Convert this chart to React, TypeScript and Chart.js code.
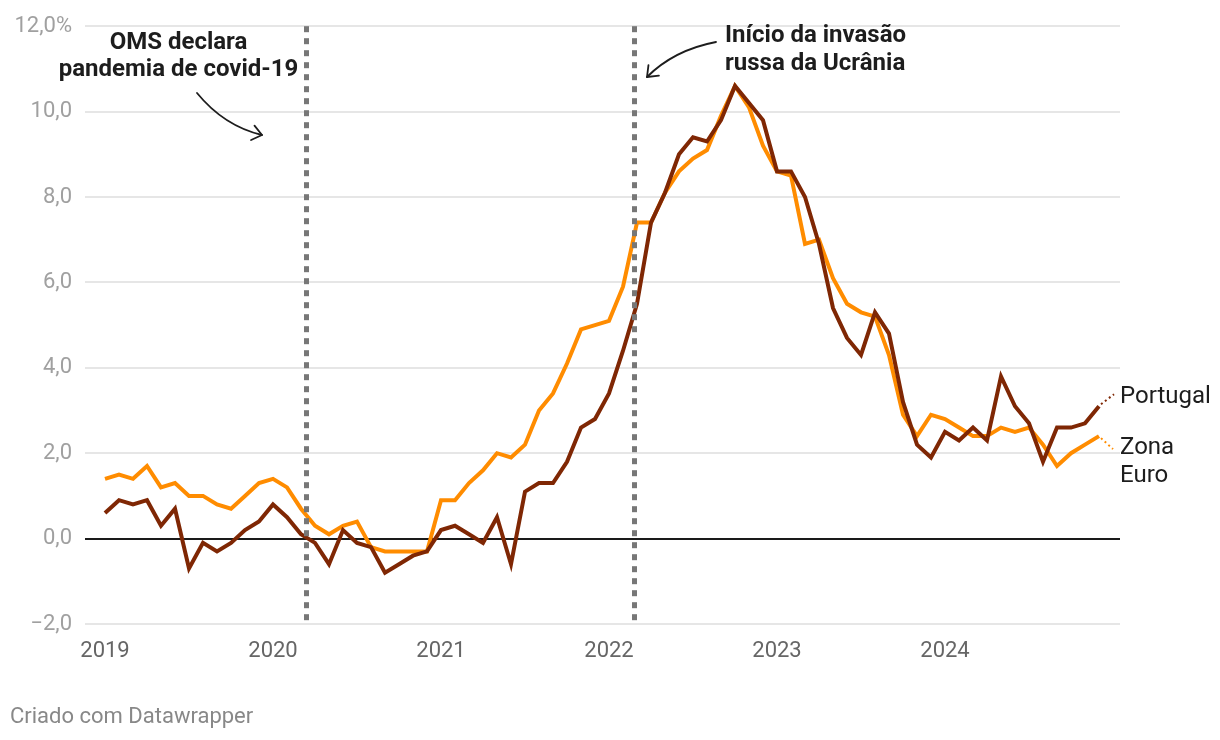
import React, { useEffect, useRef } from 'react';
import { Chart, registerables } from 'chart.js';

Chart.register(...registerables);

// ---- Data (monthly, Jan 2019 – Dec 2024) ----
const yearLabels = ['2019', '2020', '2021', '2022', '2023', '2024'];
const yearTickMonths = [0, 12, 24, 36, 48, 60];

const portugal = [
  0.6, 0.9, 0.8, 0.9, 0.3, 0.7, -0.7, -0.1, -0.3, -0.1, 0.2, 0.4,
  0.8, 0.5, 0.1, -0.1, -0.6, 0.2, -0.1, -0.2, -0.8, -0.6, -0.4, -0.3,
  0.2, 0.3, 0.1, -0.1, 0.5, -0.6, 1.1, 1.3, 1.3, 1.8, 2.6, 2.8,
  3.4, 4.4, 5.5, 7.4, 8.1, 9.0, 9.4, 9.3, 9.8, 10.6, 10.2, 9.8,
  8.6, 8.6, 8.0, 6.9, 5.4, 4.7, 4.3, 5.3, 4.8, 3.2, 2.2, 1.9,
  2.5, 2.3, 2.6, 2.3, 3.8, 3.1, 2.7, 1.8, 2.6, 2.6, 2.7, 3.1,
];

const zonaEuro = [
  1.4, 1.5, 1.4, 1.7, 1.2, 1.3, 1.0, 1.0, 0.8, 0.7, 1.0, 1.3,
  1.4, 1.2, 0.7, 0.3, 0.1, 0.3, 0.4, -0.2, -0.3, -0.3, -0.3, -0.3,
  0.9, 0.9, 1.3, 1.6, 2.0, 1.9, 2.2, 3.0, 3.4, 4.1, 4.9, 5.0,
  5.1, 5.9, 7.4, 7.4, 8.1, 8.6, 8.9, 9.1, 9.9, 10.6, 10.1, 9.2,
  8.6, 8.5, 6.9, 7.0, 6.1, 5.5, 5.3, 5.2, 4.3, 2.9, 2.4, 2.9,
  2.8, 2.6, 2.4, 2.4, 2.6, 2.5, 2.6, 2.2, 1.7, 2.0, 2.2, 2.4,
];

const yTickValues = [-2, 0, 2, 4, 6, 8, 10, 12];

// Events (fractional month index from Jan 2019)
const eventMonths = [14.33, 37.82];
const eventTexts = [
  ['OMS declara', 'pandemia de covid-19'],
  ['Início da invasão', 'russa da Ucrânia'],
];

const seriesNames = ['Portugal', 'Zona Euro'];
const footerText = 'Criado com Datawrapper';

const COLOR_PT = '#7f2704';
const COLOR_EU = '#ff8c00';
const FONT = 'Roboto, "Noto Sans", "DejaVu Sans", sans-serif';

function drawArrow(
  ctx: CanvasRenderingContext2D,
  p0: [number, number],
  c: [number, number],
  p2: [number, number]
) {
  ctx.beginPath();
  ctx.moveTo(p0[0], p0[1]);
  ctx.quadraticCurveTo(c[0], c[1], p2[0], p2[1]);
  ctx.stroke();
  const ang = Math.atan2(p2[1] - c[1], p2[0] - c[0]);
  const len = 12;
  const spread = (38 * Math.PI) / 180;
  ctx.beginPath();
  ctx.moveTo(p2[0] - len * Math.cos(ang - spread), p2[1] - len * Math.sin(ang - spread));
  ctx.lineTo(p2[0], p2[1]);
  ctx.lineTo(p2[0] - len * Math.cos(ang + spread), p2[1] - len * Math.sin(ang + spread));
  ctx.stroke();
}

const overlayPlugin = {
  id: 'overlay',
  afterDatasetsDraw(chart: any) {
    const { ctx, chartArea, scales } = chart;
    const x = scales.x;
    ctx.save();
    ctx.strokeStyle = '#777777';
    ctx.lineWidth = 5;
    ctx.setLineDash([6, 6]);
    eventMonths.forEach((m) => {
      const px = Math.round(x.getPixelForValue(m)) + 0.5;
      ctx.beginPath();
      ctx.moveTo(px, chartArea.top);
      ctx.lineTo(px, chartArea.bottom);
      ctx.stroke();
    });
    ctx.restore();
  },
  afterDraw(chart: any) {
    const { ctx, scales } = chart;
    const x = scales.x;
    const y = scales.y;
    ctx.save();

    // Event annotations
    ctx.fillStyle = '#1d1d1d';
    ctx.font = `bold 24px ${FONT}`;
    ctx.textBaseline = 'alphabetic';
    ctx.textAlign = 'center';
    ctx.fillText(eventTexts[0][0], 178.5, 49);
    ctx.fillText(eventTexts[0][1], 178.5, 76);
    ctx.textAlign = 'left';
    ctx.fillText(eventTexts[1][0], 725, 42);
    ctx.fillText(eventTexts[1][1], 725, 70);

    ctx.strokeStyle = '#1d1d1d';
    ctx.lineWidth = 1.8;
    ctx.lineCap = 'round';
    ctx.lineJoin = 'round';
    drawArrow(ctx, [197, 93], [224, 126], [262, 135]);
    drawArrow(ctx, [716, 42], [674, 50], [647, 77]);

    // Series end labels with dotted connectors
    const last = portugal.length - 1;
    const lx = x.getPixelForValue(last);
    const pyPt = y.getPixelForValue(portugal[last]);
    const pyEu = y.getPixelForValue(zonaEuro[last]);

    ctx.lineWidth = 2;
    ctx.lineCap = 'butt';
    ctx.setLineDash([2, 3]);
    ctx.strokeStyle = COLOR_PT;
    ctx.beginPath();
    ctx.moveTo(lx + 2, pyPt - 2);
    ctx.lineTo(lx + 15, pyPt - 12);
    ctx.stroke();
    ctx.strokeStyle = COLOR_EU;
    ctx.beginPath();
    ctx.moveTo(lx + 2, pyEu + 2);
    ctx.lineTo(lx + 14, pyEu + 13);
    ctx.stroke();
    ctx.setLineDash([]);

    ctx.fillStyle = '#1d1d1d';
    ctx.font = `24px ${FONT}`;
    ctx.textAlign = 'left';
    ctx.fillText(seriesNames[0], 1120, pyPt - 3);
    const [w1, w2] = seriesNames[1].split(' ');
    ctx.fillText(w1, 1120, pyEu + 18);
    ctx.fillText(w2, 1120, pyEu + 46);

    // Footer
    ctx.fillStyle = '#888888';
    ctx.font = `22px ${FONT}`;
    ctx.fillText(footerText, 10, 723);

    ctx.restore();
  },
};

export default function App() {
  const ref = useRef<HTMLCanvasElement>(null);

  useEffect(() => {
    const canvas = ref.current;
    if (!canvas) return;
    const chart = new Chart(canvas, {
      type: 'line',
      data: {
        datasets: [
          {
            label: seriesNames[0],
            data: portugal.map((v, i) => ({ x: i, y: v })),
            borderColor: COLOR_PT,
            borderWidth: 4,
            pointRadius: 0,
            tension: 0,
            fill: false,
          },
          {
            label: seriesNames[1],
            data: zonaEuro.map((v, i) => ({ x: i, y: v })),
            borderColor: COLOR_EU,
            borderWidth: 4,
            pointRadius: 0,
            tension: 0,
            fill: false,
          },
        ],
      },
      options: {
        responsive: false,
        animation: false,
        devicePixelRatio: 1,
        layout: { padding: { top: 24, right: 100, left: 0, bottom: 0 } },
        plugins: {
          legend: { display: false },
          tooltip: { enabled: false },
          title: { display: false },
        },
        scales: {
          x: {
            type: 'linear',
            min: -1.4286,
            max: 72.5,
            grid: { display: false, drawTicks: false },
            border: { display: false },
            afterBuildTicks: (scale: any) => {
              scale.ticks = yearTickMonths.map((v) => ({ value: v }));
            },
            afterFit: (scale: any) => {
              scale.height = 116;
            },
            ticks: {
              autoSkip: false,
              maxRotation: 0,
              padding: 14,
              color: '#666666',
              font: { family: FONT, size: 22 },
              callback: (v: any) => {
                const idx = yearTickMonths.indexOf(Number(v));
                return idx >= 0 ? yearLabels[idx] : '';
              },
            },
          },
          y: {
            type: 'linear',
            min: -2,
            max: 12,
            border: { display: false },
            grid: {
              drawTicks: false,
              color: (c: any) => (c.tick && c.tick.value === 0 ? '#1a1a1a' : '#e6e6e6'),
              lineWidth: 2,
            },
            afterBuildTicks: (scale: any) => {
              scale.ticks = yTickValues.map((v) => ({ value: v }));
            },
            afterFit: (scale: any) => {
              scale.width = 85;
            },
            ticks: {
              padding: 13,
              color: '#a0a0a0',
              font: { family: FONT, size: 22 },
              callback: (v: any) => {
                const n = Number(v);
                const s = Math.abs(n).toFixed(1).replace('.', ',');
                return (n < 0 ? '\u2212' : '') + s + (n === 12 ? '%' : '');
              },
            },
          },
        },
      },
      plugins: [overlayPlugin],
    });
    return () => chart.destroy();
  }, []);

  return (
    <div
      style={{
        position: 'absolute',
        left: 0,
        top: 0,
        width: 1220,
        height: 740,
        background: '#ffffff',
      }}
    >
      <canvas
        ref={ref}
        width={1220}
        height={740}
        style={{ display: 'block', width: 1220, height: 740 }}
      />
    </div>
  );
}
